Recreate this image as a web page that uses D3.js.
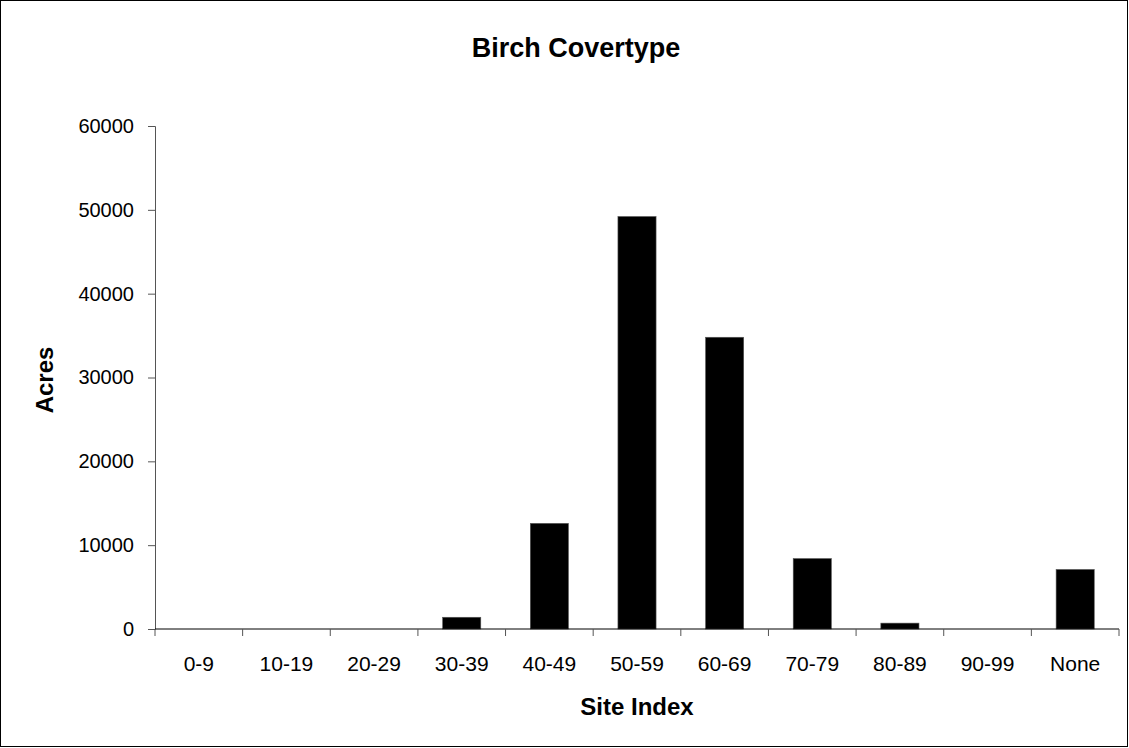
<!DOCTYPE html>
<html><head><meta charset="utf-8">
<script src="https://cdn.jsdelivr.net/npm/d3@7"></script>
<style>body{margin:0;background:#fff}svg{display:block}text{font-family:"Liberation Sans",Arial,sans-serif}</style>
</head><body><svg id="c" width="1129" height="748"></svg>
<script>
const categories = ["0-9","10-19","20-29","30-39","40-49","50-59","60-69","70-79","80-89","90-99","None"];
const acres = [0,0,0,1400,12600,49200,34800,8400,700,0,7100];
const yTicks = [0,10000,20000,30000,40000,50000,60000];

const svg = d3.select("#c");
const W = 1129, H = 748;
const m = {left:155, right:1119, top:126, bottom:629};

svg.append("rect").attr("x",0.5).attr("y",0.5).attr("width",W-2).attr("height",H-2)
  .attr("fill","#fff").attr("stroke","#000").attr("stroke-width",1);

const x = d3.scaleBand().domain(categories).range([m.left,m.right]).paddingInner(0.565).paddingOuter(0.2825);
const xb = d3.scaleBand().domain(categories).range([m.left,m.right]);
const y = d3.scaleLinear().domain([0,60000]).range([m.bottom,m.top]);

svg.append("g").selectAll("rect").data(categories).join("rect")
  .attr("x",d=>x(d)).attr("width",x.bandwidth())
  .attr("y",(d,i)=>y(acres[i])).attr("height",(d,i)=>y(0)-y(acres[i]))
  .attr("fill","#000").attr("stroke","#555").attr("stroke-width",0.6);

// y axis
const ya = svg.append("g").attr("transform",`translate(${m.left},0)`)
  .call(d3.axisLeft(y).tickValues(yTicks).tickFormat(d3.format("d")).tickSize(7).tickPadding(14));
ya.select(".domain").attr("stroke","#555");
ya.selectAll(".tick line").attr("stroke","#555");
ya.selectAll("text").attr("font-size",20).attr("fill","#000");

// x axis
const xa = svg.append("g").attr("transform",`translate(0,${m.bottom})`);
xa.append("line").attr("x1",m.left).attr("x2",m.right).attr("stroke","#000");
const edges = categories.map(c=>xb(c)).concat([m.right]);
xa.selectAll("line.t").data(edges).join("line").attr("class","t")
  .attr("x1",d=>d).attr("x2",d=>d).attr("y1",0).attr("y2",7).attr("stroke","#555");
xa.selectAll("text").data(categories).join("text")
  .attr("x",d=>xb(d)+xb.bandwidth()/2).attr("y",42)
  .attr("text-anchor","middle").attr("font-size",21).text(d=>d);

svg.append("text").attr("x",576).attr("y",57).attr("text-anchor","middle")
  .attr("font-size",27).attr("font-weight","bold").text("Birch Covertype");
svg.append("text").attr("x",(m.left+m.right)/2).attr("y",715).attr("text-anchor","middle")
  .attr("font-size",24).attr("font-weight","bold").text("Site Index");
svg.append("text").attr("transform","translate(53,380) rotate(-90)").attr("text-anchor","middle")
  .attr("font-size",24).attr("font-weight","bold").text("Acres");
</script></body></html>
